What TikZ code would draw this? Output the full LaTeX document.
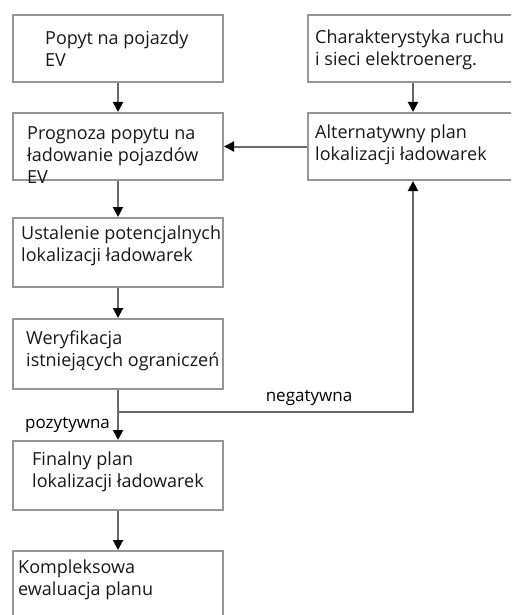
\documentclass[tikz,border=0pt]{standalone}
\usepackage{fontspec}
\setmainfont{Open Sans}
\usetikzlibrary{arrows.meta}
\definecolor{boxgray}{RGB}{150,150,150}
\definecolor{linegray}{RGB}{105,105,105}

\begin{document}
\begin{tikzpicture}[x=1pt,y=-1pt,>={Triangle[length=10pt,width=10pt,color=black]},
  box/.style={draw=boxgray,line width=2pt,fill=white,inner sep=0pt,anchor=north west,minimum width=210pt},
  txt/.style={anchor=base west,align=left,inner sep=0pt,text=black!90,font=\fontsize{18}{22}\selectfont},
  lbl/.style={anchor=base,inner sep=0pt,font=\fontsize{17}{20}\selectfont},
  flow/.style={->,draw=linegray,line width=2pt}]
\useasboundingbox (0,0) rectangle (511,615);
\clip (0,0) rectangle (511,615);
% left column
\node[box,minimum height=67pt] (popyt) at (12,14) {};
\node[box,minimum height=67pt] (prognoza) at (12,112) {};
\node[box,minimum height=69pt] (ustalenie) at (12,217) {};
\node[box,minimum height=70pt] (weryf) at (12,318) {};
\node[box,minimum height=69pt] (finalny) at (12,440) {};
\node[box,minimum height=90pt] (ewaluacja) at (12,550) {};
% right column
\node[box,minimum width=240pt,minimum height=67pt] (ruch) at (307,14) {};
\node[box,minimum width=240pt,minimum height=67pt] (alternatywa) at (307,112) {};
% texts (placed at the baseline of the last line)
\node[txt] (popyt-t) at (45,67) {Popyt na pojazdy\\EV};
\node[txt] (prognoza-t) at (27,183) {Prognoza popytu na\\ładowanie pojazdów\\EV};
\node[txt] (ustalenie-t) at (21,261) {Ustalenie potencjalnych\\lokalizacji ładowarek};
\node[txt] (weryf-t) at (26,366) {Weryfikacja\\istniejących ograniczeń};
\node[txt] (finalny-t) at (32,487) {Finalny plan\\lokalizacji ładowarek};
\node[txt] (ewaluacja-t) at (18,595) {Kompleksowa\\ewaluacja planu};
\node[txt] (ruch-t) at (315,66) {Charakterystyka ruchu\\i sieci elektroenerg.};
\node[txt] (alternatywa-t) at (315,160) {Alternatywny plan\\lokalizacji ładowarek};
% connectors
\coordinate (rx) at (413,0);
\coordinate (split) at (117,412);
\draw[flow] (popyt) -- (prognoza);
\draw[flow] (prognoza) -- (ustalenie);
\draw[flow] (ustalenie) -- (weryf);
\draw[flow] (weryf) -- (finalny);
\draw[flow] (finalny) -- (ewaluacja);
\draw[flow] (ruch.south -| rx) -- (alternatywa.north -| rx);
\draw[flow] (alternatywa.west) -- (prognoza.east);
\draw[flow] (split) -| (alternatywa.south -| rx);
\node[lbl] (negatywna) at (309,401) {negatywna};
\node[lbl,anchor=base west] (pozytywna) at (25,428) {pozytywna};
\end{tikzpicture}
\end{document}
